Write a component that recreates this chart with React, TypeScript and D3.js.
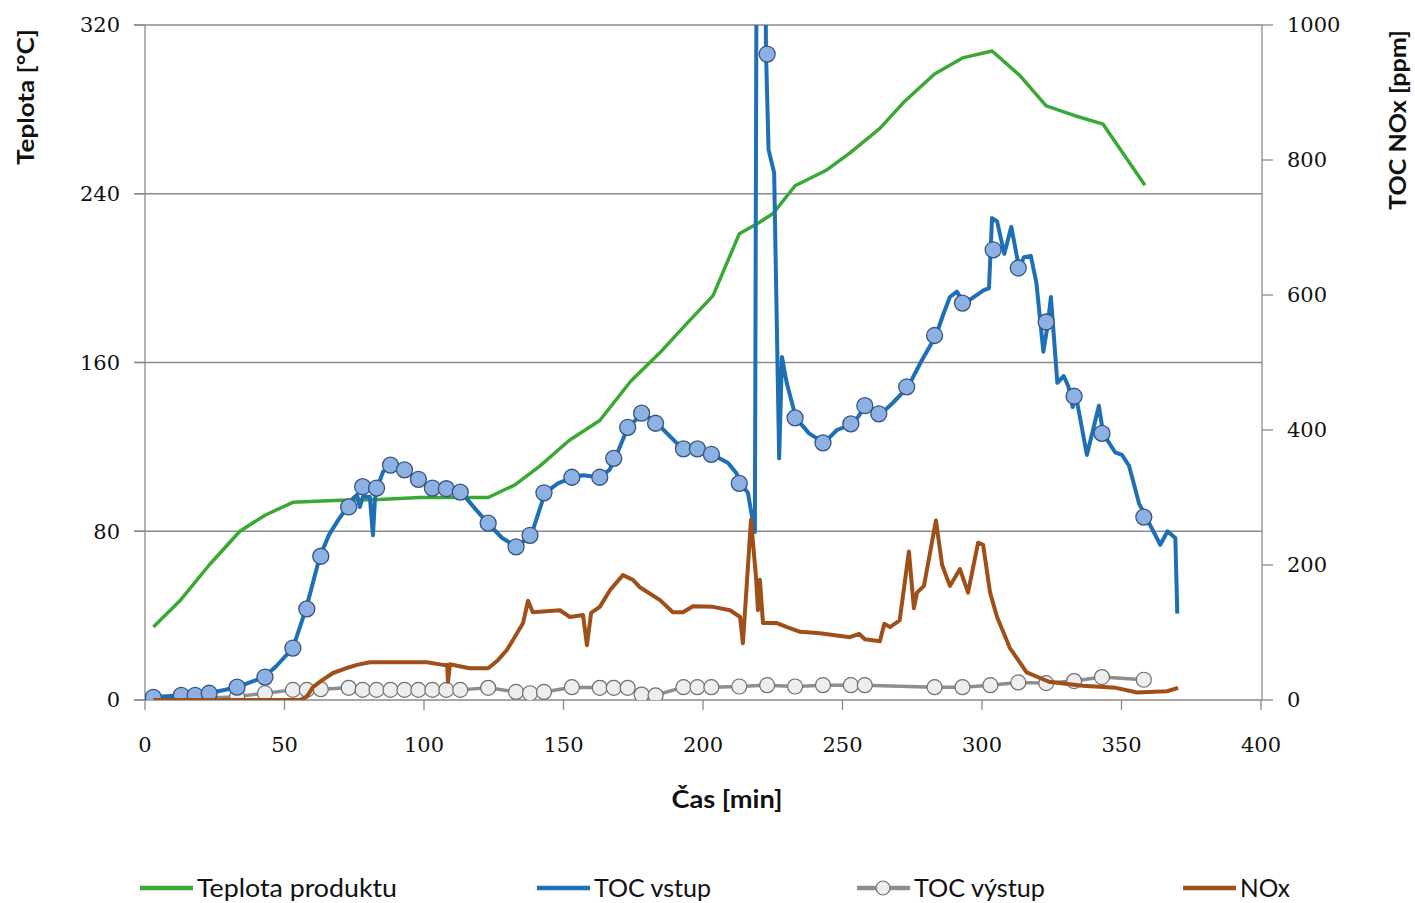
import React from 'react';
import * as d3 from 'd3';

const W = 1415;
const H = 903;

// axes
const timeTicks = [0, 50, 100, 150, 200, 250, 300, 350, 400];
const tempTicks = [0, 80, 160, 240, 320];
const ppmTicks = [0, 200, 400, 600, 800, 1000];

// Teplota produktu [°C] – [min, value]
const teplota: [number, number][] = [
  [3, 34.6], [12.5, 47], [23, 64], [34, 80], [43, 87.6], [53, 93.7], [70, 94.7], [84, 95],
  [98.5, 96], [113, 96], [123, 96], [132.6, 102], [141.6, 111], [152, 123], [163, 132.5],
  [174, 151], [184.6, 164.7], [193.5, 177.5], [203.6, 191.7], [213, 221], [219.7, 226],
  [225, 230.5], [233, 243.8], [244, 251], [252.7, 259.4], [263.4, 271], [272.4, 284],
  [283, 296.8], [293, 304.4], [303.6, 307.7], [313.6, 296], [323, 281.7], [333.3, 277],
  [343.4, 273], [358.4, 244],
];

// TOC vstup [ppm] – continuous record
const tocVstup: [number, number][] = [
  [2.9, 4], [12.5, 7], [17.9, 7], [22.9, 10], [33, 19], [42.7, 34], [47, 50], [53, 77],
  [57.7, 135], [62.7, 213], [66, 245], [69, 265], [71, 277], [72.8, 286], [74.6, 299],
  [76, 304], [77, 286], [78.1, 301], [80.6, 301], [81.7, 244], [82.4, 296], [83.2, 314],
  [85.3, 338], [87.8, 348], [93.2, 341], [97.8, 327], [102.9, 314], [108.2, 313],
  [113.3, 308], [118, 285], [122.9, 262], [128, 240], [133.3, 227], [138.4, 244],
  [143.4, 307], [148, 321], [153.4, 330], [157, 333], [162.7, 330], [166.5, 341],
  [168.5, 358], [173.1, 404], [178.5, 425], [183.5, 410], [190.5, 381], [192.8, 372],
  [198.2, 372], [203.2, 364], [209, 351], [212, 336], [213.3, 321], [216.1, 307],
  [217.6, 271], [218.6, 249], [219.4, 1400], [221.7, 1400], [222.6, 957], [223.5, 815],
  [225.5, 781], [227.3, 358], [228.3, 508], [230, 470], [233.3, 418], [238, 395],
  [243.4, 381], [248, 400], [253.8, 409], [258.4, 436], [263.8, 424], [268, 440],
  [273.5, 464], [278, 500], [283.5, 540], [286, 570], [288.5, 597], [291, 605],
  [293.5, 588], [296, 594], [300.5, 607], [302.5, 610], [303.6, 714], [305.4, 709],
  [308, 661], [310.5, 701], [313.3, 640], [315, 656], [317.5, 658], [319.5, 618],
  [322, 516], [323.7, 560], [324.7, 597], [327, 470], [329.3, 480], [331, 464],
  [332.5, 434], [333.7, 450], [337.6, 363], [341.9, 436], [343.4, 395], [347.7, 367],
  [350.2, 363], [352.7, 347], [356.3, 291], [358.8, 271], [363.9, 230], [366.5, 250],
  [369.3, 240], [370, 128],
];

// TOC vstup – sampled points (markers)
const tocVstupSamples: [number, number][] = [
  [3, 4], [13, 7], [18, 7], [23, 10], [33, 19], [43, 34], [53, 77], [58, 135], [63, 213],
  [73, 286], [78, 316], [83, 314], [88, 348], [93, 341], [98, 327], [103, 314], [108, 313],
  [113, 308], [123, 262], [133, 227], [138, 244], [143, 307], [153, 330], [163, 330],
  [168, 358], [173, 404], [178, 425], [183, 410], [193, 372], [198, 372], [203, 364],
  [213, 321], [223, 957], [233, 418], [243, 381], [253, 409], [258, 436], [263, 424],
  [273, 464], [283, 540], [293, 588], [304, 667], [313, 640], [323, 560], [333, 450],
  [343, 395], [358, 271],
];

// TOC výstup [ppm]
const tocVystup: [number, number][] = [
  [3, 3], [13, 3], [18, 3], [23, 3], [33, 5], [43, 10], [53, 15], [58, 15], [63, 16],
  [73, 18], [78, 15], [83, 15], [88, 15], [93, 15], [98, 15], [103, 15], [108, 15],
  [113, 15], [123, 18], [133, 12], [138, 10], [143, 12], [153, 19], [163, 18], [168, 18],
  [173, 18], [178, 8], [183, 7], [193, 19], [198, 19], [203, 19], [213, 20], [223, 22],
  [233, 20], [243, 22], [253, 22], [258, 22], [283, 19], [293, 19], [303, 22], [313, 26],
  [323, 25], [333, 28], [343, 34], [358, 30],
];

// NOx [ppm]
const nox: [number, number][] = [
  [3, 0], [24, 0], [55.6, 0], [58, 5], [60.2, 19], [63, 28], [67.4, 40], [72, 47], [76, 52],
  [80.6, 56], [90, 56], [101, 56], [106.8, 52], [108.3, 52], [108.6, 27], [109.3, 53],
  [114, 49], [116.5, 47], [123, 47], [126.5, 59], [129.7, 74], [131.9, 89], [135.5, 114],
  [137.3, 147], [139, 130], [148.7, 133], [152.3, 123], [157, 126], [158.4, 81],
  [159.9, 129], [163, 138], [166.7, 163], [171.3, 185], [174.9, 178], [177.4, 167],
  [184.6, 148], [189.2, 130], [192.8, 130], [196.4, 139], [203.6, 138], [209.7, 133],
  [213.3, 123], [214.3, 84], [217.2, 267], [219, 182], [219.7, 133], [220.4, 178],
  [221.5, 114], [226.5, 114], [230.1, 108], [234.8, 101], [241.9, 99], [252.7, 93],
  [256, 98], [258, 90], [263.4, 87], [265, 113], [267, 108], [270.5, 118], [273.8, 220],
  [275.6, 136], [276.7, 159], [279.2, 169], [283.5, 266], [285.7, 200], [288.5, 169],
  [292.1, 194], [295, 159], [298.6, 233], [300.4, 230], [302.9, 159], [305.4, 123],
  [310, 77], [316, 41], [324, 27], [336, 21], [348, 18], [355.6, 11], [366.3, 13], [370.3, 18],
];

const GREEN = '#3aa834';
const BLUE = '#1f6fb6';
const BROWN = '#9f4f18';
const GRAY = '#8e8e8e';
const AXIS = '#8a8a8a';

const serif = '"DejaVu Serif", serif';
const sans = 'Lato, "Open Sans", sans-serif';

export default function App() {
  const x = d3.scaleLinear().domain([0, 400]).range([145, 1261]);
  const yL = d3.scaleLinear().domain([0, 320]).range([700, 25]);
  const yR = d3.scaleLinear().domain([0, 1000]).range([700, 25]);

  const lineL = d3.line<[number, number]>().x(d => x(d[0])).y(d => yL(d[1]));
  const lineR = d3.line<[number, number]>().x(d => x(d[0])).y(d => yR(d[1]));

  const [x0, x1] = x.range();
  const [yb, yt] = yL.range();

  const legend = [
    { label: 'Teplota produktu', color: GREEN, x: 140, len: 200, marker: false },
    { label: 'TOC vstup', color: BLUE, x: 537, len: 117, marker: false },
    { label: 'TOC výstup', color: GRAY, x: 857, len: 131, marker: true },
    { label: 'NOx', color: BROWN, x: 1183, len: 50, marker: false },
  ];

  return (
    <svg width={W} height={H} style={{ position: 'absolute', left: 0, top: 0, background: '#fff' }}>
      <defs>
        <clipPath id="plot">
          <rect x={x0} y={yt} width={x1 - x0} height={yb - yt} />
        </clipPath>
      </defs>

      {/* gridlines + left ticks */}
      {tempTicks.map(t => (
        <g key={t}>
          {t > 0 && <line x1={134} x2={1262} y1={yL(t)} y2={yL(t)} stroke={AXIS} strokeWidth={1.3} />}
          <line x1={134} x2={145} y1={yL(t)} y2={yL(t)} stroke={AXIS} strokeWidth={1.3} />
          <text x={120} y={yL(t)} dy="0.35em" textAnchor="end" fontFamily={serif} fontSize={21} fill="#111">{t}</text>
        </g>
      ))}
      {/* right axis */}
      <line x1={1262} x2={1262} y1={yt} y2={yb} stroke={AXIS} strokeWidth={1.3} />
      {ppmTicks.map(t => (
        <g key={t}>
          <line x1={1262} x2={1273} y1={yR(t)} y2={yR(t)} stroke={AXIS} strokeWidth={1.3} />
          <text x={1287} y={yR(t)} dy="0.35em" textAnchor="start" fontFamily={serif} fontSize={21} fill="#111">{t}</text>
        </g>
      ))}
      {/* left axis + x axis */}
      <line x1={x0} x2={x0} y1={yt} y2={yb} stroke={AXIS} strokeWidth={1.3} />
      <line x1={134} x2={1262} y1={yb} y2={yb} stroke={AXIS} strokeWidth={1.3} />
      {timeTicks.map(t => (
        <g key={t}>
          <line x1={x(t)} x2={x(t)} y1={yb} y2={yb + 10} stroke={AXIS} strokeWidth={1.3} />
          <text x={x(t)} y={745} dy="0.35em" textAnchor="middle" fontFamily={serif} fontSize={21} fill="#111">{t}</text>
        </g>
      ))}

      {/* axis titles */}
      <text transform="translate(34,97) rotate(-90)" textAnchor="middle" fontFamily={sans} fontWeight={700} fontSize={23} textLength={136} lengthAdjust="spacingAndGlyphs" fill="#111">Teplota [°C]</text>
      <text transform="translate(1406,120) rotate(-90)" textAnchor="middle" fontFamily={sans} fontWeight={700} fontSize={23} textLength={180} lengthAdjust="spacingAndGlyphs" fill="#111">TOC NOx [ppm]</text>
      <text x={727} y={808} textAnchor="middle" fontFamily={sans} fontWeight={700} fontSize={24} textLength={111} lengthAdjust="spacingAndGlyphs" fill="#111">Čas [min]</text>

      {/* series */}
      <g clipPath="url(#plot)" fill="none" strokeLinejoin="round">
        <path d={lineL(teplota) ?? ''} stroke={GREEN} strokeWidth={3.5} />
        <path d={lineR(tocVystup) ?? ''} stroke={GRAY} strokeWidth={3.5} />
        {tocVystup.map((d, i) => (
          <circle key={i} cx={x(d[0])} cy={yR(d[1])} r={7.5} fill="#eeeeee" stroke="#6f6f6f" strokeWidth={1.2} />
        ))}
        <path d={lineR(tocVstup) ?? ''} stroke={BLUE} strokeWidth={4} />
        {tocVstupSamples.map((d, i) => (
          <circle key={i} cx={x(d[0])} cy={yR(d[1])} r={8} fill="#8db1e2" stroke="#34557f" strokeWidth={1.3} />
        ))}
        <path d={lineR(nox) ?? ''} stroke={BROWN} strokeWidth={4} />
      </g>

      {/* legend */}
      {legend.map(l => (
        <g key={l.label}>
          <line x1={l.x} x2={l.x + 53} y1={888} y2={888} stroke={l.color} strokeWidth={4.5} />
          {l.marker && <circle cx={l.x + 26} cy={888} r={7} fill="#eeeeee" stroke="#6f6f6f" strokeWidth={1.2} />}
          <text x={l.x + 57} y={888} dy="0.35em" fontFamily={sans} fontSize={25} textLength={l.len} lengthAdjust="spacingAndGlyphs" fill="#111">{l.label}</text>
        </g>
      ))}
    </svg>
  );
}
